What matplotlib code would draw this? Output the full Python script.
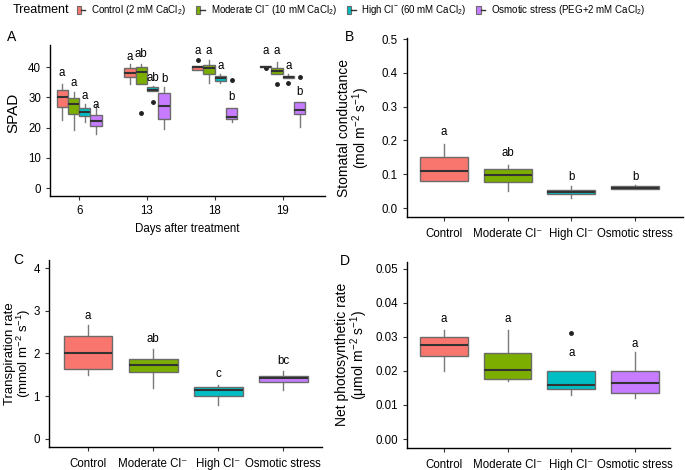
import matplotlib
matplotlib.use("Agg")
import matplotlib.pyplot as plt
from matplotlib.patches import Patch
from matplotlib.lines import Line2D
from matplotlib.legend_handler import HandlerTuple

plt.rcParams['font.family'] = ['Liberation Sans', 'DejaVu Sans']
plt.rcParams['mathtext.fontset'] = 'custom'
plt.rcParams['mathtext.rm'] = 'Liberation Sans'

colors = ['#F8766D', '#7CAE00', '#00BFC4', '#C77CFF']
legend_labels = [r'Control (2 mM CaCl$_2$)', r'Moderate Cl$^{-}$ (10 mM CaCl$_2$)',
                 r'High Cl$^{-}$ (60 mM CaCl$_2$)', r'Osmotic stress (PEG+2 mM CaCl$_2$)']
treatments = ['Control', 'Moderate Cl⁻', 'High Cl⁻', 'Osmotic stress']
days = ['6', '13', '18', '19']

# box stats: (whislo, q1, med, q3, whishi, fliers)
spad = [
    [(22.6, 26.8, 30.1, 32.3, 34.3, []), (19.1, 24.4, 27.8, 29.9, 31.9, []),
     (22.0, 24.0, 25.3, 26.6, 27.8, []), (18.0, 20.7, 22.3, 24.1, 27.5, [])],
    [(34.5, 36.7, 38.1, 39.6, 40.9, []), (34.3, 34.3, 38.5, 39.9, 41.2, [24.7]),
     (32.0, 32.0, 32.6, 33.4, 33.7, [28.6]), (19.5, 22.7, 27.3, 31.3, 33.3, [])],
    [(39.2, 39.2, 40.0, 40.3, 40.3, [42.4]), (34.9, 37.9, 39.6, 40.8, 42.5, []),
     (34.9, 35.5, 36.5, 37.1, 37.6, []), (21.8, 22.9, 23.4, 26.5, 26.5, [35.7])],
    [(39.9, 39.9, 40.2, 40.4, 40.4, [39.6]), (37.7, 37.7, 38.8, 39.6, 41.8, [34.5]),
     (36.4, 36.4, 36.8, 37.1, 37.6, [34.9]), (20.3, 24.4, 25.7, 28.5, 28.5, [36.7])],
]
spad_letters = [['a', 'a', 'a', 'a'], ['a', 'ab', 'ab', 'b'],
                ['a', 'a', 'a', 'b'], ['a', 'a', 'a', 'b']]
spad_letter_y = [[38.2, 34.9, 30.5, 27.5], [43.4, 44.2, 36.3, 36.1],
                 [45.5, 45.5, 40.4, 30.2], [45.5, 45.5, 40.4, 31.9]]

gs = [(0.080, 0.080, 0.110, 0.151, 0.190, []), (0.049, 0.077, 0.098, 0.115, 0.128, []),
      (0.031, 0.041, 0.047, 0.053, 0.064, []), (0.055, 0.055, 0.060, 0.065, 0.069, [])]
gs_letters = ['a', 'ab', 'b', 'b']
gs_letter_y = [0.224, 0.162, 0.093, 0.093]

tr = [(1.50, 1.63, 2.00, 2.40, 2.66, []), (1.20, 1.56, 1.73, 1.86, 2.10, []),
      (0.80, 1.00, 1.14, 1.22, 1.27, []), (1.14, 1.32, 1.42, 1.48, 1.59, [])]
tr_letters = ['a', 'ab', 'c', 'bc']
tr_letter_y = [2.87, 2.34, 1.52, 1.83]

pn = [(0.0200, 0.0245, 0.0277, 0.0300, 0.0319, []), (0.0169, 0.0175, 0.0204, 0.0253, 0.0319, []),
      (0.0130, 0.0146, 0.0159, 0.0201, 0.0201, [0.0312]), (0.0120, 0.0136, 0.0163, 0.0200, 0.0254, [])]
pn_letters = ['a', 'a', 'a', 'a']
pn_letter_y = [0.0351, 0.0351, 0.0252, 0.0280]

edge = '#6b6b6b'
med_c = '#333333'
fs = 8.3


def stat(s):
    lo, q1, med, q3, hi, fl = s
    return dict(whislo=lo, q1=q1, med=med, q3=q3, whishi=hi, fliers=fl)


def draw(ax, stats, pos, width, cols):
    bp = ax.bxp([stat(s) for s in stats], positions=pos, widths=width,
                patch_artist=True, showcaps=False,
                boxprops=dict(edgecolor=edge, linewidth=1.0),
                whiskerprops=dict(color='#7a7a7a', linewidth=1.0),
                medianprops=dict(color=med_c, linewidth=1.5),
                flierprops=dict(marker='o', markerfacecolor='#222222',
                                markeredgecolor='#222222', markersize=2.5))
    for b, c in zip(bp['boxes'], cols):
        b.set_facecolor(c)
    for w in bp['whiskers']:
        w.set_zorder(0.5)


def style(ax):
    for s in ['top', 'right']:
        ax.spines[s].set_visible(False)
    for s in ['left', 'bottom']:
        ax.spines[s].set_linewidth(1.0)
    ax.tick_params(labelsize=fs, length=3, width=0.8, color='#333333')


fig = plt.figure(figsize=(6.85, 4.7), dpi=100)

# Panel A
axA = fig.add_axes([0.073, 0.583, 0.401, 0.321])
bw = 0.167
offs = [-1.5 * bw, -0.5 * bw, 0.5 * bw, 1.5 * bw]
for i in range(len(days)):
    pos = [i + 1 + o for o in offs]
    draw(axA, spad[i], pos, bw, colors)
    for j in range(4):
        axA.text(pos[j], spad_letter_y[i][j], spad_letters[i][j], ha='center',
                 va='center', fontsize=fs)
axA.set_xticks(range(1, 5))
axA.set_xticklabels(days)
axA.set_xlim(0.57, 4.62)
axA.set_ylim(-2.6, 47.3)
axA.set_yticks([0, 10, 20, 30, 40])
axA.set_ylabel('SPAD', fontsize=11)
axA.yaxis.set_label_coords(-0.109, 0.55)
axA.set_xlabel('Days after treatment', fontsize=fs)
style(axA)

panels = [
    ([0.594, 0.538, 0.403, 0.381], gs, gs_letters, gs_letter_y, (-0.027, 0.503), (0.42, 4.75),
     [0.0, 0.1, 0.2, 0.3, 0.4, 0.5], '%.1f',
     'Stomatal conductance\n(mol m$^{-2}$ s$^{-1}$)', -0.127, 10),
    ([0.0715, 0.049, 0.399, 0.398], tr, tr_letters, tr_letter_y, (-0.19, 4.19), (0.4, 4.6),
     [0, 1, 2, 3, 4], '%d', 'Transpiration rate\n(mmol m$^{-2}$ s$^{-1}$)', -0.058, 9.5),
    ([0.594, 0.047, 0.384, 0.396], pn, pn_letters, pn_letter_y, (-0.0026, 0.052), (0.42, 4.55),
     [0.0, 0.01, 0.02, 0.03, 0.04, 0.05], '%.2f',
     'Net photosynthetic rate\n(μmol m$^{-2}$ s$^{-1}$)', -0.141, 10),
]
for rect, stats, letters, ly, ylim, xlim, yt, fmt, ylab, lx, lfs in panels:
    ax = fig.add_axes(rect)
    pos = [1, 2, 3, 4]
    draw(ax, stats, pos, 0.75, colors)
    for j in range(4):
        ax.text(pos[j], ly[j], letters[j], ha='center', va='center', fontsize=fs)
    ax.set_xticks(pos)
    ax.set_xticklabels(treatments)
    ax.set_xlim(*xlim)
    ax.set_ylim(*ylim)
    ax.set_yticks(yt)
    ax.set_yticklabels([fmt % v for v in yt])
    ax.set_ylabel(ylab, fontsize=lfs, linespacing=0.95)
    ax.yaxis.set_label_coords(lx, 0.5)
    style(ax)
    ax.tick_params(axis='x', pad=5)

fig.text(0.010, 0.936, 'A', fontsize=10, va='top')
fig.text(0.504, 0.936, 'B', fontsize=10, va='top')
fig.text(0.019, 0.462, 'C', fontsize=10, va='top')
fig.text(0.496, 0.46, 'D', fontsize=10, va='top')

handles = [(Patch(facecolor=c, edgecolor=edge, linewidth=0.8),
            Line2D([], [], color=med_c, linewidth=1.0)) for c in colors]
fig.text(0.018, 0.978, 'Treatment', fontsize=9, va='center')
fig.legend(handles, legend_labels, handler_map={tuple: HandlerTuple(ndivide=None)},
           loc='center left', bbox_to_anchor=(0.112, 0.978), ncol=4, frameon=False,
           fontsize=7, handlelength=0.9, handleheight=0.9, handletextpad=0.6,
           columnspacing=1.0, borderpad=0, borderaxespad=0)

fig.savefig('out.png', dpi=100)
